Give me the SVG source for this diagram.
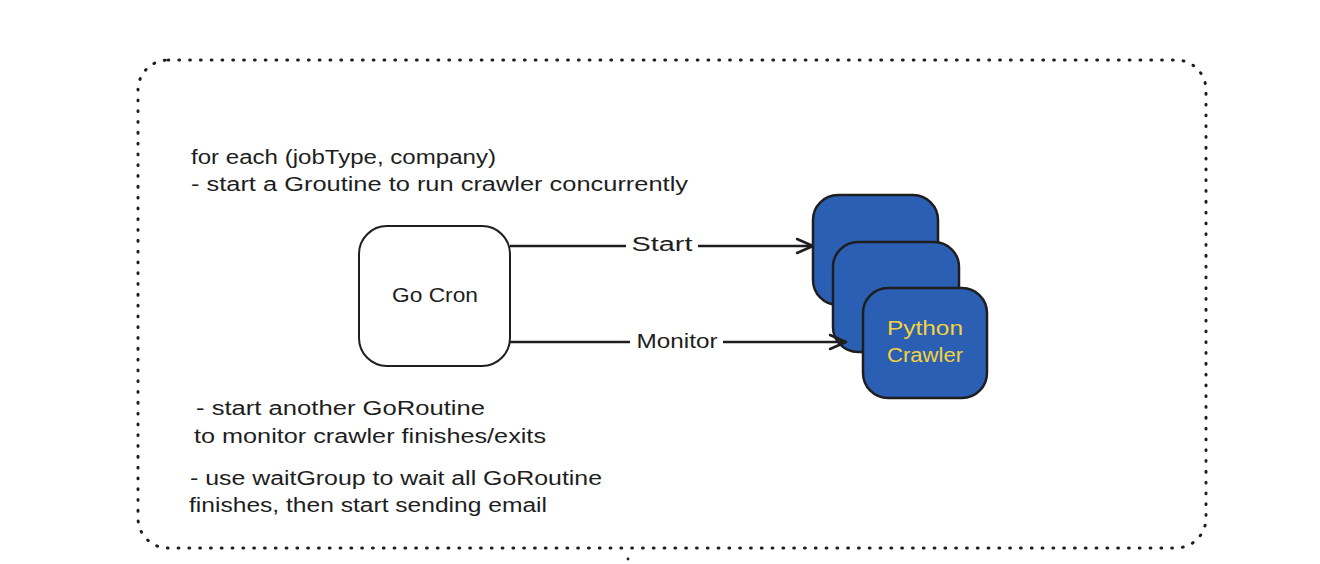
<svg xmlns="http://www.w3.org/2000/svg" width="1320" height="564" viewBox="0 0 1320 564">
  <defs>
    <style>
      .t { font-family: "Liberation Sans", "DejaVu Sans", sans-serif; font-size: 20px; fill: #1e1e1e; }
      .lbl { font-family: "Liberation Sans", "DejaVu Sans", sans-serif; font-size: 20px; fill: #1e1e1e; text-anchor: middle; }
      .py { font-family: "Liberation Sans", "DejaVu Sans", sans-serif; font-size: 20px; fill: #f5d33d; text-anchor: middle; }
      .box { fill: #ffffff; stroke: #1e1e1e; stroke-width: 2; }
      .blue { fill: #2b5fb4; stroke: #1e1e1e; stroke-width: 2.5; }
      .edge { fill: none; stroke: #1e1e1e; stroke-width: 2.5; }
      .frame { fill: none; stroke: #1e1e1e; stroke-width: 3; stroke-dasharray: 0.8 10; stroke-linecap: round; }
    </style>
    <marker id="arr" viewBox="0 0 20 20" refX="18" refY="10" markerWidth="20" markerHeight="20" markerUnits="userSpaceOnUse" orient="auto">
      <path d="M2,3 L18,10 L2,17" fill="none" stroke="#1e1e1e" stroke-width="2.5" stroke-linecap="round" stroke-linejoin="round"/>
    </marker>
  </defs>
  <rect width="1320" height="564" fill="#ffffff"/>

  <g id="frame">
    <rect class="frame" x="138" y="60" width="1068" height="488" rx="30" ry="30"/>
    <circle cx="628" cy="559" r="1.4" fill="#1e1e1e"/>
  </g>

  <g id="notes">
    <text class="t" x="191" y="164" textLength="305" lengthAdjust="spacingAndGlyphs">for each (jobType, company)</text>
    <text class="t" x="191" y="191" textLength="497" lengthAdjust="spacingAndGlyphs">- start a Groutine to run crawler concurrently</text>
    <text class="t" x="196" y="415" textLength="289" lengthAdjust="spacingAndGlyphs">- start another GoRoutine</text>
    <text class="t" x="194" y="443" textLength="352" lengthAdjust="spacingAndGlyphs">to monitor crawler finishes/exits</text>
    <text class="t" x="190" y="485" textLength="412" lengthAdjust="spacingAndGlyphs">- use waitGroup to wait all GoRoutine</text>
    <text class="t" x="189" y="512" textLength="358" lengthAdjust="spacingAndGlyphs">finishes, then start sending email</text>
  </g>

  <g id="go-cron">
    <rect class="box" x="359" y="226" width="151" height="140" rx="28" ry="28"/>
    <text class="lbl" x="435" y="302" textLength="86" lengthAdjust="spacingAndGlyphs">Go Cron</text>
  </g>

  <g id="python-crawler">
    <rect class="blue" x="813" y="195" width="125" height="110" rx="25" ry="25"/>
    <rect class="blue" x="833" y="242" width="126" height="110" rx="25" ry="25"/>
    <rect class="blue" x="863" y="288" width="124" height="110" rx="25" ry="25"/>
    <text class="py" x="925" y="335" textLength="76" lengthAdjust="spacingAndGlyphs">Python</text>
    <text class="py" x="925" y="362" textLength="76" lengthAdjust="spacingAndGlyphs">Crawler</text>
  </g>

  <g id="connectors">
    <path class="edge" d="M510,246 L813,246" marker-end="url(#arr)"/>
    <rect x="626" y="232" width="72" height="26" fill="#ffffff"/>
    <text class="lbl" x="662" y="251" textLength="61" lengthAdjust="spacingAndGlyphs">Start</text>
    <path class="edge" d="M510,342 L846,342" marker-end="url(#arr)"/>
    <rect x="630" y="328" width="93" height="26" fill="#ffffff"/>
    <text class="lbl" x="677" y="348" textLength="81" lengthAdjust="spacingAndGlyphs">Monitor</text>
  </g>
</svg>
